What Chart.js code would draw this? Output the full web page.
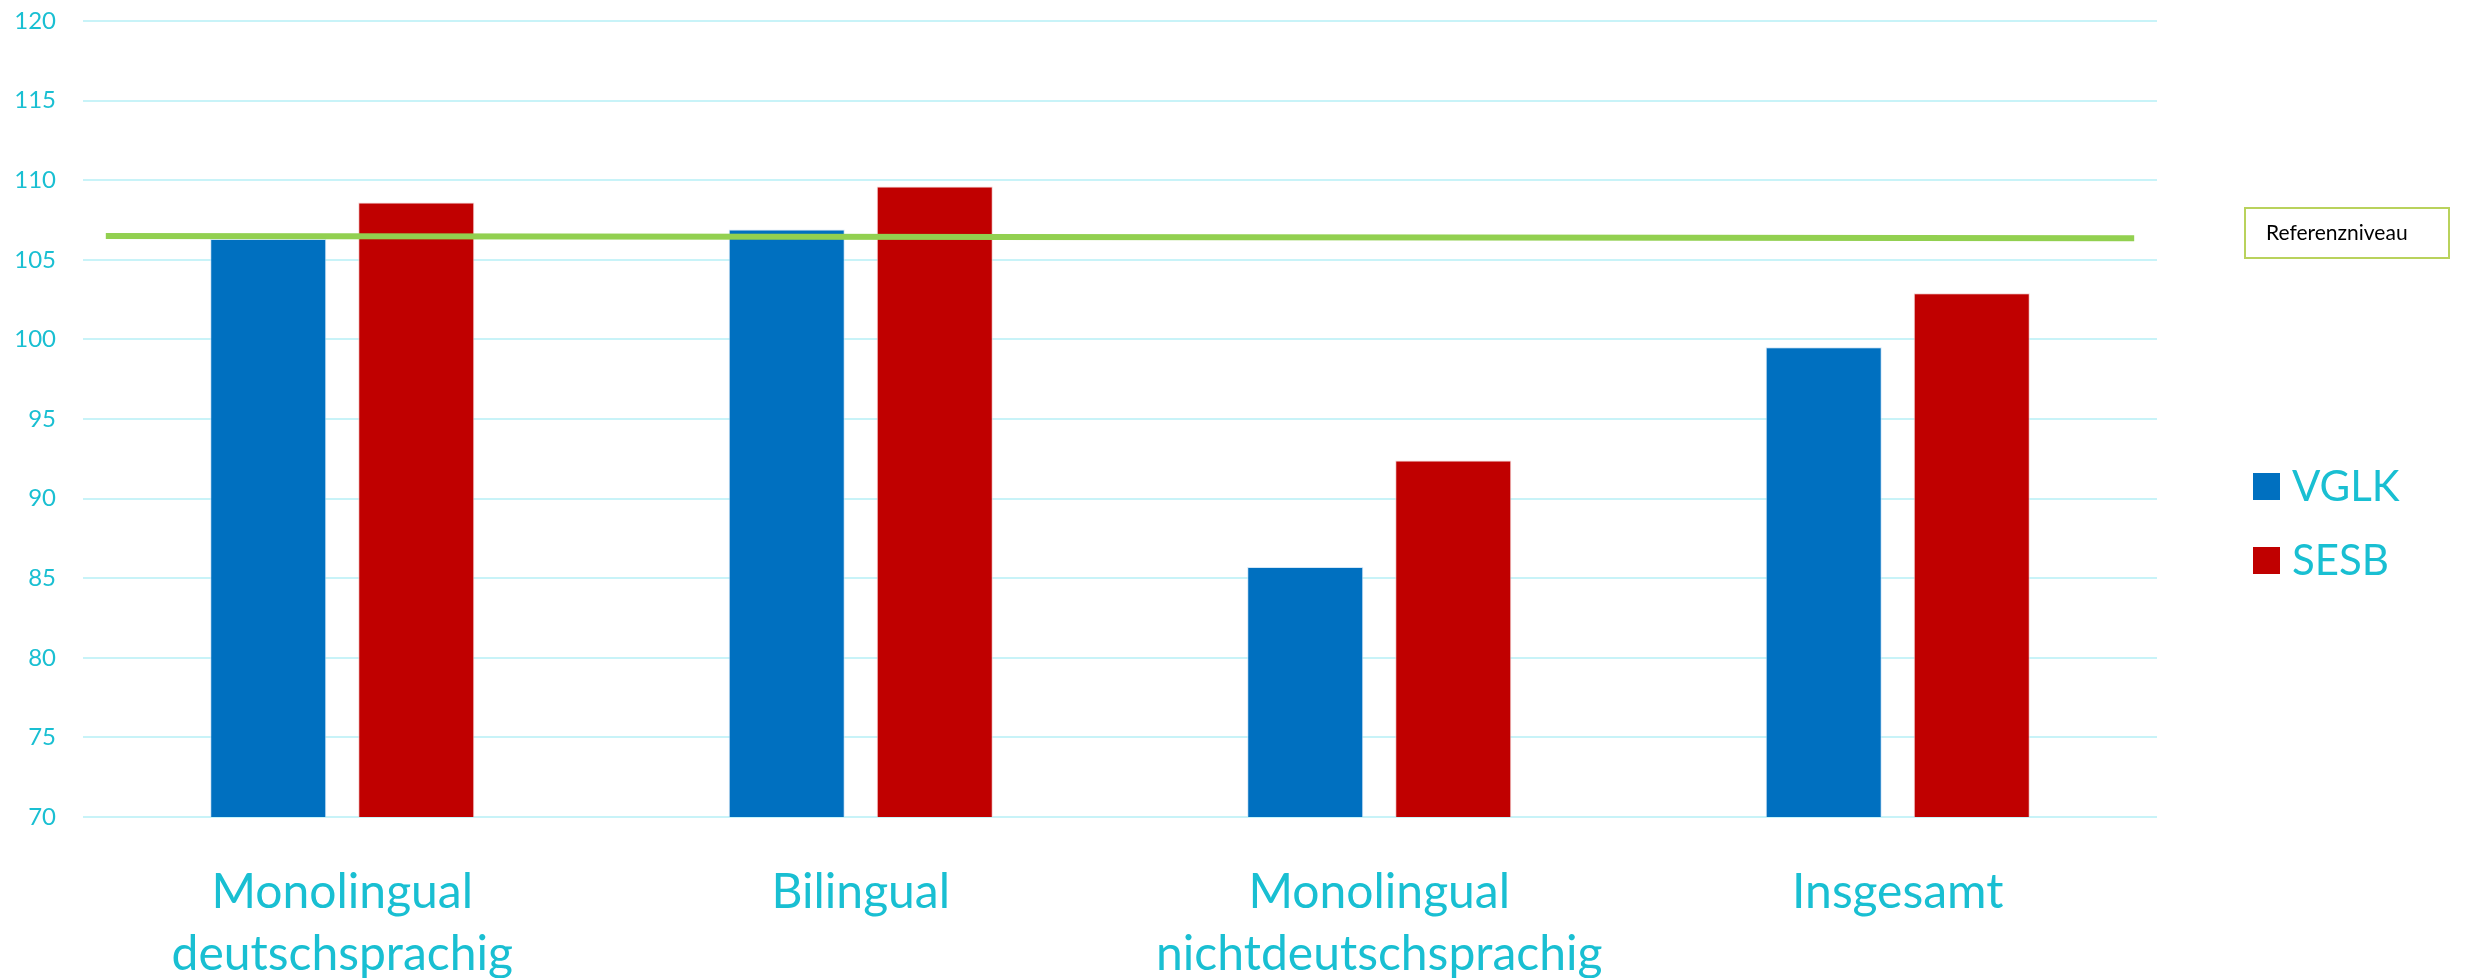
<!DOCTYPE html>
<html lang="de">
<head>
<meta charset="utf-8">
<title>VGLK / SESB</title>
<script src="https://cdn.jsdelivr.net/npm/chart.js@4/dist/chart.umd.min.js"></script>
<style>
  html, body { margin: 0; padding: 0; background: #fff; }
  #wrap { width: 2468px; height: 978px; position: relative; }
</style>
</head>
<body>
<div id="wrap"><canvas id="chart" width="2468" height="978"></canvas></div>
<script>
const categories = [
  ["Monolingual", "deutschsprachig"],
  ["Bilingual"],
  ["Monolingual", "nichtdeutschsprachig"],
  ["Insgesamt"],
];
const vglk = [106.3, 106.9, 85.7, 99.5];
const sesb = [108.6, 109.6, 92.4, 102.9];
// reference level: start and end of the green line (category position, value)
const refLevel = [
  { x: -0.456, y: 106.5 },
  { x: 3.456, y: 106.35 },
];
const refLabel = "Referenzniveau";

const cyan = "#19bfd2";
const font = "Lato";

// legend on the right plus the boxed label for the reference line
const sideLegend = {
  id: "sideLegend",
  afterDraw(chart) {
    const ctx = chart.ctx;
    ctx.save();

    ctx.strokeStyle = "#b9d25c";
    ctx.lineWidth = 2;
    ctx.strokeRect(2245, 208, 204, 50);
    ctx.fillStyle = "#000";
    ctx.font = `21px ${font}`;
    ctx.textBaseline = "middle";
    ctx.textAlign = "left";
    ctx.fillText(refLabel, 2266, 233);

    const bars = chart.data.datasets.filter((ds) => ds.type !== "line");
    bars.forEach((ds, i) => {
      const y = 473 + i * 74;
      ctx.fillStyle = ds.backgroundColor;
      ctx.fillRect(2253, y, 27, 27);
      ctx.fillStyle = cyan;
      ctx.font = `42px ${font}`;
      ctx.fillText(ds.label, 2292, y + 14);
    });
    ctx.restore();
  },
};

new Chart(document.getElementById("chart"), {
  type: "bar",
  data: {
    labels: categories,
    datasets: [
      {
        // raw {x, y} so the line can run past the first and last category
        type: "line",
        label: refLabel,
        data: refLevel,
        parsing: false,
        borderColor: "#92d050",
        borderWidth: 6,
        pointRadius: 0,
        order: 0,
      },
      {
        label: "VGLK",
        data: vglk,
        backgroundColor: "#0070c0",
        borderColor: "rgba(200,225,245,0.8)",
        borderWidth: 1,
        categoryPercentage: 0.571,
        barPercentage: 0.784,
        order: 1,
      },
      {
        label: "SESB",
        data: sesb,
        backgroundColor: "#c00000",
        borderColor: "rgba(240,200,200,0.8)",
        borderWidth: 1,
        categoryPercentage: 0.571,
        barPercentage: 0.784,
        order: 1,
      },
    ],
  },
  options: {
    responsive: false,
    animation: false,
    layout: { padding: { top: 21, right: 311, left: 0, bottom: 0 } },
    plugins: {
      legend: { display: false },
      tooltip: { enabled: false },
    },
    scales: {
      x: {
        grid: { display: false },
        border: { display: false },
        ticks: {
          color: cyan,
          font: { family: font, size: 48, lineHeight: 1.3 },
          padding: 36,
          maxRotation: 0,
          autoSkip: false,
        },
        afterFit(scale) { scale.height = 161; },
      },
      y: {
        min: 70,
        max: 120,
        ticks: {
          stepSize: 5,
          color: cyan,
          font: { family: font, size: 24 },
          padding: 27,
        },
        grid: { color: "#c8f3f8", lineWidth: 2, drawTicks: false },
        border: { display: false },
        afterFit(scale) {
          scale.width = 83;
          scale.paddingTop = 0;
          scale.paddingBottom = 0;
        },
      },
    },
  },
  plugins: [sideLegend],
});
</script>
</body>
</html>
